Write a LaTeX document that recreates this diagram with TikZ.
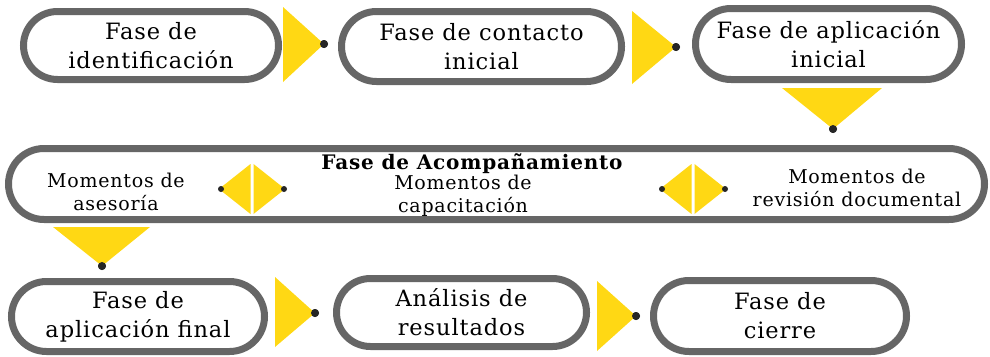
\documentclass[tikz,border=0pt]{standalone}
\usepackage{fontspec}
\setmainfont{DejaVu Serif}[LetterSpace=4]
\usetikzlibrary{shapes.misc}
\definecolor{gris}{HTML}{666666}
\definecolor{amarillo}{HTML}{FFD814}
\tikzstyle{fase}=[rounded rectangle, draw=gris, line width=7pt, fill=white, align=center, inner sep=0pt, font=\fontsize{22.5}{29}\selectfont]
\tikzstyle{momento}=[align=center, inner sep=0pt, font=\fontsize{19}{23}\selectfont]
\tikzstyle{punto}=[circle, inner sep=0pt, minimum size=8pt, fill=black!85]
\tikzstyle{flecha}=[fill=amarillo]

\begin{document}
\begin{tikzpicture}[x=1pt, y=-1pt]
    \useasboundingbox (0,0) rectangle (990,356);
    % fila superior
    \node[fase, minimum width=255pt, minimum height=68pt] (f1) at (151,45.5) {Fase de\\identificación};
    \node[fase, minimum width=280pt, minimum height=70pt] (f2) at (481.5,46.5) {Fase de contacto\\inicial};
    \node[fase, minimum width=266pt, minimum height=71pt] (f3) at (828.5,44) {Fase de aplicación\\inicial};
    % acompañamiento
    \node[fase, minimum width=976pt, minimum height=71pt] (acomp) at (496.5,184) {};
    \node[momento, font=\fontsize{20}{20}\selectfont\bfseries] (titulo) at (472,164) {Fase de Acompañamiento};
    \node[momento] (asesoria) at (116,192) {Momentos de\\asesoría};
    \node[momento] (capacitacion) at (463,196) {Momentos de\\capacitación};
    \node[momento] (revision) at (857,188) {Momentos de\\revisión documental};
    % fila inferior
    \node[fase, minimum width=253pt, minimum height=70pt] (f4) at (138,316.5) {Fase de\\aplicación final};
    \node[fase, minimum width=250pt, minimum height=68pt] (f5) at (461.5,312.5) {Análisis de\\resultados};
    \node[fase, minimum width=253pt, minimum height=71pt] (f6) at (780,316) {Fase de\\cierre};

    % flechas amarillas
    \node[punto] (p1) at (324,44) {};
    \fill[flecha] (p1.center) -- ++(-41,-37) -- ++(0,75) -- cycle;
    \node[punto] (p2) at (676,47) {};
    \fill[flecha] (p2.center) -- ++(-44,-36) -- ++(0,73) -- cycle;
    \node[punto] (p3) at (833,129) {};
    \fill[flecha] (p3.center) -- ++(-51,-41) -- ++(100,0) -- cycle;
    \node[punto] (p4) at (102,266) {};
    \fill[flecha] (p4.center) -- ++(-49,-39) -- ++(97,0) -- cycle;
    \node[punto] (p5) at (315,313) {};
    \fill[flecha] (p5.center) -- ++(-40,-36) -- ++(0,70) -- cycle;
    \node[punto] (p6) at (636,316) {};
    \fill[flecha] (p6.center) -- ++(-39,-35) -- ++(0,70) -- cycle;
    \node[punto] at (p1) {};
    \node[punto] at (p2) {};
    \node[punto] at (p3) {};
    \node[punto] at (p4) {};
    \node[punto] at (p5) {};
    \node[punto] at (p6) {};

    % rombos
    \foreach \cx/\nom in {252/izq, 693/der}{
      \fill[flecha] (\cx-1.5,164) -- (\cx-33,189) -- (\cx-1.5,214) -- cycle;
      \fill[flecha] (\cx+1.5,164) -- (\cx+33,189) -- (\cx+1.5,214) -- cycle;
      \node[punto, minimum size=6pt] (\nom a) at (\cx-31,189) {};
      \node[punto, minimum size=6pt] (\nom b) at (\cx+32,189) {};
    }
\end{tikzpicture}
\end{document}
